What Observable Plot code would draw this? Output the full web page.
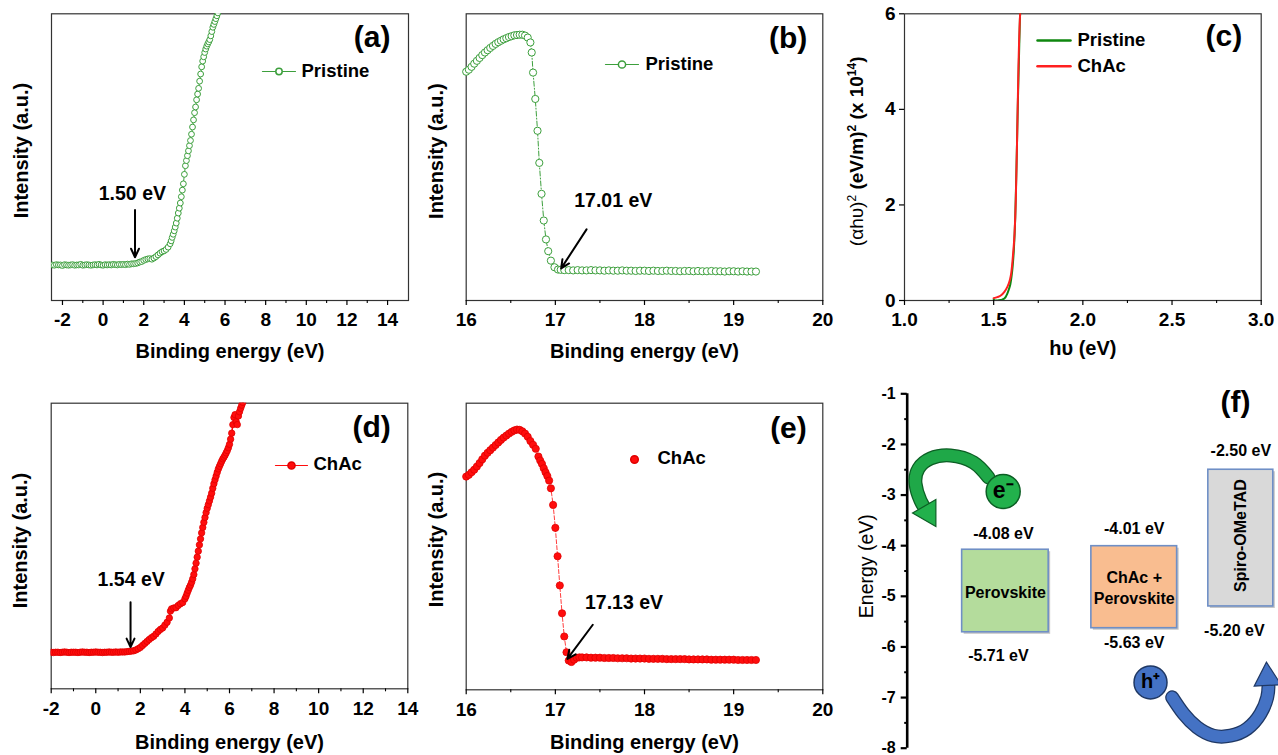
<!DOCTYPE html>
<html><head><meta charset="utf-8">
<script src="https://cdn.jsdelivr.net/npm/d3@7"></script>
<script src="https://cdn.jsdelivr.net/npm/@observablehq/plot@0.6"></script>
<style>
body{margin:0;background:#fff;}
#fig{position:relative;width:1278px;height:755px;overflow:hidden;background:#fff}
.p{position:absolute}
</style></head><body><div id="fig"></div>
<script>
// ---------------- DATA ----------------
// (a) Pristine, valence-band region
const aEnergy = [-2.5,-2.4,-2.3,-2.2,-2.1,-2.0,-1.9,-1.8,-1.7,-1.6,-1.5,-1.4,-1.3,-1.2,-1.1,-1.0,-0.9,-0.8,-0.7,-0.6,-0.5,-0.4,-0.3,-0.2,-0.1,0.0,0.1,0.2,0.3,0.4,0.5,0.6,0.7,0.8,0.9,1.0,1.1,1.2,1.3,1.4,1.5,1.6,
  1.7,1.8,1.9,2.0,2.1,2.2,2.3,2.4,2.5,2.6,2.7,2.8,2.9,3.0,3.1,3.2,3.3,3.35,3.4,3.45,3.5,3.55,3.6,3.65,3.7,3.75,3.8,3.85,3.9,3.95,4.0,
  4.05,4.1,4.15,4.2,4.25,4.3,4.35,4.4,4.45,4.5,4.55,4.6,4.65,4.7,4.75,4.8,4.85,4.9,4.95,5.0,5.05,5.1,5.15,5.2,5.25,5.3,5.35,5.4,5.45,5.5,5.55,5.6,5.65];
const aIntensity = [12.4,12.3,12.5,12.4,12.4,12.2,12.5,12.4,12.3,12.4,12.5,12.3,12.4,12.4,12.6,12.3,12.4,12.5,12.4,12.3,12.4,12.5,12.4,12.6,12.4,12.3,12.5,12.4,12.5,12.4,12.6,12.5,12.4,12.6,12.5,12.6,12.5,12.7,12.6,12.8,12.8,12.9,
  13.1,13.4,13.6,14.0,14.3,14.5,14.6,14.4,14.8,15.3,15.9,16.5,17.0,17.3,17.8,18.6,19.8,20.8,22.0,23.1,24.3,25.6,27.0,28.7,30.5,32.2,34.0,36.2,38.5,40.7,44.0,
  47.0,48.8,50.5,52.2,54.0,55.8,58.0,60.5,63.0,65.5,67.5,70.0,72.0,74.0,76.5,79.0,81.5,83.5,85.0,86.5,87.7,88.7,89.5,90.2,91.0,92.3,93.8,95.3,96.3,97.3,98.3,99.3,100.3];

// (b) Pristine, secondary-electron cutoff
const bEnergy = [16.00,16.03,16.06,16.09,16.12,16.15,16.18,16.21,16.24,16.27,16.30,16.33,16.36,16.39,16.42,16.45,16.48,16.51,16.54,16.57,
  16.60,16.63,16.66,16.69,16.72,16.735,16.75,16.775,16.80,16.82,16.845,16.87,16.895,16.92,16.95,16.99,17.03,17.06,
  17.10,17.15,17.20,17.25,17.30,17.35,17.40,17.45,17.50,17.55,17.60,17.65,17.70,17.75,17.80,17.85,17.90,17.95,18.00,18.05,
  18.10,18.15,18.20,18.25,18.30,18.35,18.40,18.45,18.50,18.55,18.60,18.65,18.70,18.75,18.80,18.85,18.90,18.95,19.00,19.05,19.10,19.15,19.20,19.25];
const bIntensity = [79.8,80.5,81.5,82.6,83.6,84.6,85.6,86.5,87.3,88.1,88.8,89.5,90.1,90.6,91.1,91.5,91.9,92.2,92.5,92.6,
  92.7,92.7,92.4,91.7,90.0,86.5,79.5,70.3,59.2,48.0,37.2,27.9,21.3,17.2,13.9,11.6,10.8,10.7,
  10.6,10.6,10.5,10.6,10.5,10.5,10.6,10.5,10.5,10.4,10.5,10.4,10.4,10.5,10.4,10.4,10.3,10.4,10.4,10.3,
  10.4,10.3,10.3,10.4,10.3,10.3,10.2,10.3,10.3,10.2,10.3,10.2,10.2,10.3,10.2,10.2,10.1,10.2,10.2,10.1,10.2,10.1,10.1,10.1];

// (c) Tauc plot
const cPristineX = [1.500,1.505,1.520,1.540,1.560,1.576,1.585,1.594,1.600,1.606,1.613,1.621,1.628,1.636,1.642,1.647,1.652];
const cPristineY = [0.03,0.0,0.0,0.01,0.04,0.14,0.23,0.35,0.5,0.7,1.05,1.74,2.8,4.2,5.1,5.86,6.2];
const cChAcX = [1.500,1.520,1.538,1.560,1.576,1.590,1.598,1.609,1.617,1.624,1.632,1.639,1.647,1.652];
const cChAcY = [0.05,0.07,0.10,0.18,0.28,0.42,0.56,0.98,1.4,2.1,3.5,4.9,5.9,6.2];

// (d) ChAc, valence-band region
const dEnergy = [-2.0,-1.9,-1.8,-1.7,-1.6,-1.5,-1.4,-1.3,-1.2,-1.1,-1.0,-0.9,-0.8,-0.7,-0.6,-0.5,-0.4,-0.3,-0.2,-0.1,0.0,0.1,0.2,0.3,0.4,0.5,0.6,0.7,0.8,0.9,1.0,1.1,1.2,1.3,
  1.4,1.5,1.6,1.7,1.8,1.9,2.0,2.1,2.2,2.3,2.4,2.5,2.6,2.7,2.8,2.9,3.0,3.1,3.2,3.3,3.35,3.4,3.5,3.6,3.7,3.8,3.9,
  4.0,4.05,4.1,4.15,4.2,4.25,4.3,4.35,4.4,4.45,4.5,4.55,4.6,4.65,4.7,4.75,4.8,4.85,4.9,4.95,5.0,5.05,5.1,5.15,5.2,5.25,5.3,5.35,5.4,5.45,5.5,
  5.55,5.6,5.65,5.7,5.75,5.8,5.85,5.9,5.95,6.0,6.05,6.1,6.15,6.2,6.25,6.3,6.35,6.4,6.45,6.5,6.55,6.6];
const dIntensity = [12.8,12.7,12.8,12.8,12.7,12.8,12.9,12.8,12.7,12.8,12.8,12.8,12.7,12.8,12.9,12.8,12.8,12.7,12.8,12.8,12.9,12.8,12.8,12.7,12.8,12.8,12.9,12.8,12.8,12.9,12.8,12.9,12.9,12.9,
  13.0,13.1,13.2,13.3,13.6,14.0,14.5,15.2,15.9,16.6,17.3,17.9,18.4,19.2,20.1,20.8,21.3,22.3,23.3,24.8,27.2,28.0,28.3,28.4,29.2,29.8,30.2,
  31.5,32.4,33.5,34.5,35.5,36.3,37.3,38.5,40.0,42.0,44.0,46.1,48.2,50.4,52.5,54.6,56.5,58.3,60.0,61.7,63.2,64.5,65.8,67.1,68.5,70.2,71.8,73.2,74.5,75.8,77.0,
  77.9,78.8,79.7,80.5,81.1,81.8,82.6,83.4,84.4,85.6,87.4,89.5,92.5,95.0,96.0,93.5,92.5,95.5,97.0,98.2,99.3,100.3];

// (e) ChAc, secondary-electron cutoff
const eEnergy = [16.00,16.03,16.06,16.09,16.12,16.15,16.18,16.21,16.24,16.27,16.30,16.33,16.36,16.39,16.42,16.45,16.48,16.51,16.54,16.57,
  16.60,16.63,16.66,16.69,16.72,16.75,16.78,16.81,16.83,16.85,16.87,16.89,16.91,16.93,16.95,16.975,17.0,17.025,17.05,17.075,
  17.10,17.125,17.15,17.18,17.21,17.24,17.27,
  17.30,17.35,17.40,17.45,17.50,17.55,17.60,17.65,17.70,17.75,17.80,17.85,17.90,17.95,18.00,18.05,18.10,18.15,18.20,18.25,
  18.30,18.35,18.40,18.45,18.50,18.55,18.60,18.65,18.70,18.75,18.80,18.85,18.90,18.95,19.00,19.05,19.10,19.15,19.20,19.25];
const eIntensity = [74.4,75.0,75.9,76.8,77.9,79.1,80.4,81.7,82.7,83.6,84.5,85.4,86.3,87.2,88.0,88.7,89.4,90.0,90.5,90.8,
  90.7,90.2,89.4,88.3,86.8,85.5,84.1,81.4,80.0,78.8,77.3,75.9,74.6,73.0,70.3,64.5,56.5,46.6,36.4,26.7,
  18.6,13.1,10.2,9.7,10.5,11.2,11.3,
  11.3,11.3,11.2,11.2,11.2,11.1,11.1,11.1,11.0,11.0,11.0,10.9,10.9,10.9,10.9,10.8,10.8,10.8,10.8,10.7,
  10.7,10.7,10.7,10.7,10.6,10.6,10.6,10.6,10.6,10.5,10.5,10.5,10.5,10.5,10.5,10.4,10.4,10.4,10.4,10.4];

// (f) energy-level diagram
const layerNames = ["Perovskite", "ChAc +\nPerovskite", "Spiro-OMeTAD"];
const layerTop = [-4.08, -4.01, -2.50];
const layerBottom = [-5.71, -5.63, -5.20];

// tick labels
const ticksVB = [-2,0,2,4,6,8,10,12,14];
const ticksSECO = [16,17,18,19,20];
const ticksTaucX = [1.0,1.5,2.0,2.5,3.0];
const ticksTaucY = [0,2,4,6];
const ticksEnergy = [-1,-2,-3,-4,-5,-6,-7,-8];

// ---------------- HELPERS ----------------
const FONT = "'Liberation Sans', Arial, Helvetica, sans-serif";
const GREEN = "#3c9f3c", RED = "#ff0d0d", RED_D = "#e00000";
const fig = document.getElementById("fig");
const rows = (X, Y) => X.map((x, i) => ({x, y: Y[i]}));
const hy = d => String(d); // hyphen-minus like the original

function scales(cfg) {
  const sx = d3.scaleLinear(cfg.xDomain, [cfg.frame.l, cfg.frame.r]);
  const sy = d3.scaleLinear(cfg.yDomain, [cfg.frame.b, cfg.frame.t]);
  return {X: p => sx.invert(p), Y: p => sy.invert(p)};
}
function mount(cfg, marks, opts = {}) {
  const {left, top, width, height, frame} = cfg;
  const svg = Plot.plot({
    width, height,
    marginLeft: frame.l - left,
    marginRight: left + width - frame.r,
    marginTop: frame.t - top,
    marginBottom: top + height - frame.b,
    x: {domain: cfg.xDomain, label: null, ...(opts.x || {})},
    y: {domain: cfg.yDomain, label: null, ...(opts.y || {})},
    style: {fontFamily: FONT, fontWeight: "bold", fontSize: "19px", color: "#000", background: "transparent", overflow: "visible"},
    marks
  });
  if (opts.post) opts.post(svg);
  const wrap = document.createElement("div");
  wrap.className = "p";
  wrap.style.left = left + "px";
  wrap.style.top = top + "px";
  wrap.appendChild(svg);
  fig.appendChild(wrap);
}
const xTitle = (t, dy) => Plot.text([t], {frameAnchor: "bottom", dy, textAnchor: "middle", lineAnchor: "middle", fontSize: 20});
const yTitle = (t, dx, dy, fs = 20, fw = "bold") => Plot.text([t], {frameAnchor: "left", dx, dy, rotate: -90, textAnchor: "middle", lineAnchor: "middle", fontSize: fs, fontWeight: fw});
const panelLabel = (t, dx, dy) => Plot.text([t], {frameAnchor: "top-right", dx, dy, textAnchor: "end", lineAnchor: "middle", fontSize: 30});
const majorX = (ticks, pad, fmt = hy) => Plot.axisX(ticks, {tickSize: 5, tickPadding: pad, tickFormat: fmt, fontSize: 19, strokeWidth: 1.2, label: null});
const minorX = (ticks) => Plot.axisX(ticks, {tickSize: 3, tickFormat: () => "", strokeWidth: 1.1, label: null});
const frameMark = () => Plot.frame({stroke: "#333", strokeWidth: 1.2});

// ---------------- (a) ----------------
const A = {left: 0, top: 0, width: 426, height: 378, frame: {l: 51, r: 408, t: 13.3, b: 300}, xDomain: [-2.54, 15.03], yDomain: [0, 100]};
{
  const s = scales(A);
  mount(A, [
    frameMark(),
    Plot.line(rows(aEnergy, aIntensity), {x: "x", y: "y", stroke: GREEN, strokeWidth: 1, clip: true}),
    Plot.dot(rows(aEnergy, aIntensity), {x: "x", y: "y", r: 2.9, stroke: GREEN, fill: "white", strokeWidth: 1, clip: true}),
    majorX(ticksVB, 6.7), minorX([-1,1,3,5,7,9,11,13]),
    Plot.text([{x: 1.44, y: 37.2, t: "1.50 eV"}], {x: "x", y: "y", text: "t", fontSize: 19.5, lineAnchor: "middle"}),
    Plot.arrow([{x1: 1.57, y1: 31.6, x2: 1.57, y2: 15.1}], {x1: "x1", y1: "y1", x2: "x2", y2: "y2", stroke: "black", strokeWidth: 2, headLength: 7, headAngle: 50}),
    Plot.line([{x: s.X(262), y: s.Y(71)}, {x: s.X(295), y: s.Y(71)}], {x: "x", y: "y", stroke: GREEN, strokeWidth: 1.2}),
    Plot.dot([{x: s.X(278.5), y: s.Y(71)}], {x: "x", y: "y", r: 3.2, stroke: GREEN, fill: "white"}),
    Plot.text([{x: s.X(301), y: s.Y(71), t: "Pristine"}], {x: "x", y: "y", text: "t", textAnchor: "start", lineAnchor: "middle", fontSize: 18.5}),
    panelLabel("(a)", -18, 23.4),
    yTitle("Intensity (a.u.)", -30.3, -6.6),
    xTitle("Binding energy (eV)", 51)
  ], {y: {axis: null}});
}

// ---------------- (b) ----------------
const B = {left: 426, top: 0, width: 414, height: 378, frame: {l: 465.7, r: 822.3, t: 13.3, b: 300}, xDomain: [16, 20], yDomain: [0, 100]};
{
  const s = scales(B);
  mount(B, [
    frameMark(),
    Plot.line(rows(bEnergy, bIntensity), {x: "x", y: "y", stroke: GREEN, strokeWidth: 1, strokeDasharray: "5,2,1,2"}),
    Plot.dot(rows(bEnergy, bIntensity), {x: "x", y: "y", r: 3.6, stroke: GREEN, fill: "white", strokeWidth: 1}),
    majorX(ticksSECO, 6.7), minorX([16.5,17.5,18.5,19.5]),
    Plot.text([{x: 17.65, y: 34.9, t: "17.01 eV"}], {x: "x", y: "y", text: "t", fontSize: 19.5, lineAnchor: "middle"}),
    Plot.arrow([{x1: 17.35, y1: 24.8, x2: 17.065, y2: 11.2}], {x1: "x1", y1: "y1", x2: "x2", y2: "y2", stroke: "black", strokeWidth: 2, headLength: 7, headAngle: 50}),
    Plot.line([{x: s.X(605), y: s.Y(64)}, {x: s.X(638), y: s.Y(64)}], {x: "x", y: "y", stroke: GREEN, strokeWidth: 1.2}),
    Plot.dot([{x: s.X(621.5), y: s.Y(64)}], {x: "x", y: "y", r: 3.6, stroke: GREEN, fill: "white"}),
    Plot.text([{x: s.X(645), y: s.Y(64), t: "Pristine"}], {x: "x", y: "y", text: "t", textAnchor: "start", lineAnchor: "middle", fontSize: 18.5}),
    panelLabel("(b)", -15.6, 25),
    yTitle("Intensity (a.u.)", -29.7, -6),
    xTitle("Binding energy (eV)", 51)
  ], {y: {axis: null}});
}

// ---------------- (c) ----------------
const C = {left: 840, top: 0, width: 438, height: 378, frame: {l: 904, r: 1260.7, t: 13.3, b: 300}, xDomain: [1, 3], yDomain: [0, 6]};
{
  const s = scales(C);
  const CG = "#0f870f", CR = "#ff2020";
  const TAUC_LABEL = "(αhυ)2 (eV/m)2 (x 1014)";
  mount(C, [
    frameMark(),
    Plot.line(rows(cPristineX, cPristineY), {x: "x", y: "y", stroke: CG, strokeWidth: 2, curve: "monotone-x", clip: true}),
    Plot.line(rows(cChAcX, cChAcY), {x: "x", y: "y", stroke: CR, strokeWidth: 2, curve: "monotone-x", clip: true}),
    majorX(ticksTaucX, 6.7, d => d.toFixed(1)), minorX([1.25,1.75,2.25,2.75]),
    Plot.axisY(ticksTaucY, {tickSize: 5, tickPadding: 4, tickFormat: hy, fontSize: 19, strokeWidth: 1.2, label: null}),
    Plot.line([{x: s.X(1037), y: s.Y(40)}, {x: s.X(1070), y: s.Y(40)}], {x: "x", y: "y", stroke: CG, strokeWidth: 2.5}),
    Plot.line([{x: s.X(1037), y: s.Y(65.7)}, {x: s.X(1070), y: s.Y(65.7)}], {x: "x", y: "y", stroke: CR, strokeWidth: 2.5}),
    Plot.text([{x: s.X(1077), y: s.Y(40), t: "Pristine"}, {x: s.X(1077), y: s.Y(65.7), t: "ChAc"}], {x: "x", y: "y", text: "t", textAnchor: "start", lineAnchor: "middle", fontSize: 18.5}),
    panelLabel("(c)", -19, 23),
    yTitle(TAUC_LABEL, -47.3, -5.8, 19),
    xTitle("hυ (eV)", 48.5)
  ], {post: svg => {
    // rich text for the Tauc axis title: regular (αhυ), bold units, raised exponents
    for (const t of svg.querySelectorAll("text")) {
      if (t.textContent === TAUC_LABEL) {
        const NS = "http://www.w3.org/2000/svg";
        const parts = [["(αhυ)", "normal", 0, 19], ["2", "normal", -7, 12], [" (eV/m)", "bold", 7, 19], ["2", "bold", -7, 12], [" (x 10", "bold", 7, 19], ["14", "bold", -7, 12], [")", "bold", 7, 19]];
        t.textContent = "";
        for (const [txt, fw, dy, fs] of parts) {
          const sp = document.createElementNS(NS, "tspan");
          sp.textContent = txt; sp.setAttribute("font-weight", fw); sp.setAttribute("font-size", fs);
          if (dy) sp.setAttribute("dy", dy);
          t.appendChild(sp);
        }
      }
    }
  }});
}

// ---------------- (d) ----------------
const D = {left: 0, top: 378, width: 426, height: 377, frame: {l: 50.7, r: 407.3, t: 402.7, b: 688.3}, xDomain: [-2, 14], yDomain: [0, 100]};
{
  const s = scales(D);
  mount(D, [
    frameMark(),
    Plot.line(rows(dEnergy, dIntensity), {x: "x", y: "y", stroke: RED, strokeWidth: 1.5, clip: true}),
    Plot.dot(rows(dEnergy, dIntensity), {x: "x", y: "y", r: 3.2, stroke: RED_D, fill: RED, strokeWidth: 0.8, clip: true}),
    majorX(ticksVB, 8), minorX([-1,1,3,5,7,9,11,13]),
    Plot.text([{x: 1.59, y: 38.3, t: "1.54 eV"}], {x: "x", y: "y", text: "t", fontSize: 19.5, lineAnchor: "middle"}),
    Plot.arrow([{x1: 1.56, y1: 30.3, x2: 1.56, y2: 14.6}], {x1: "x1", y1: "y1", x2: "x2", y2: "y2", stroke: "black", strokeWidth: 2, headLength: 7, headAngle: 50}),
    Plot.line([{x: s.X(275), y: s.Y(465)}, {x: s.X(307), y: s.Y(465)}], {x: "x", y: "y", stroke: RED, strokeWidth: 1.2}),
    Plot.dot([{x: s.X(291), y: s.Y(465)}], {x: "x", y: "y", r: 3.6, stroke: RED_D, fill: RED}),
    Plot.text([{x: s.X(313), y: s.Y(464), t: "ChAc"}], {x: "x", y: "y", text: "t", textAnchor: "start", lineAnchor: "middle", fontSize: 18.5}),
    panelLabel("(d)", -17, 24),
    yTitle("Intensity (a.u.)", -30.7, -5.5),
    xTitle("Binding energy (eV)", 53.5)
  ], {y: {axis: null}});
}

// ---------------- (e) ----------------
const E = {left: 426, top: 378, width: 414, height: 377, frame: {l: 465.7, r: 822.3, t: 402.7, b: 689.3}, xDomain: [16, 20], yDomain: [0, 100]};
{
  const s = scales(E);
  mount(E, [
    frameMark(),
    Plot.line(rows(eEnergy, eIntensity), {x: "x", y: "y", stroke: RED, strokeWidth: 0.8, strokeDasharray: "4,2"}),
    Plot.dot(rows(eEnergy, eIntensity), {x: "x", y: "y", r: 3.6, stroke: RED_D, fill: RED, strokeWidth: 0.8}),
    majorX(ticksSECO, 8), minorX([16.5,17.5,18.5,19.5]),
    Plot.text([{x: 17.77, y: 30.2, t: "17.13 eV"}], {x: "x", y: "y", text: "t", fontSize: 19.5, lineAnchor: "middle"}),
    Plot.arrow([{x1: 17.42, y1: 22.7, x2: 17.135, y2: 10.8}], {x1: "x1", y1: "y1", x2: "x2", y2: "y2", stroke: "black", strokeWidth: 2, headLength: 7, headAngle: 50}),
    Plot.dot([{x: s.X(634), y: s.Y(459)}], {x: "x", y: "y", r: 3.8, stroke: RED_D, fill: RED}),
    Plot.text([{x: s.X(657), y: s.Y(458), t: "ChAc"}], {x: "x", y: "y", text: "t", textAnchor: "start", lineAnchor: "middle", fontSize: 18.5}),
    panelLabel("(e)", -16, 25),
    yTitle("Intensity (a.u.)", -29.9, -7),
    xTitle("Binding energy (eV)", 53)
  ], {y: {axis: null}});
}

// ---------------- (f) ----------------
const F = {left: 840, top: 378, width: 438, height: 377, frame: {l: 906.7, r: 1278, t: 393.3, b: 747.7}, xDomain: [0, 10], yDomain: [-8, -1]};
{
  // layout of the diagram (x extent of each layer box, label nudges)
  const boxX = [[1.48, 3.81], [4.96, 7.27], [8.11, 9.86]];
  const boxFill = ["#b4dc9c", "#f9bd90", "#d9d9d9"];
  const topNudge = [[-2, -16], [0, -17.5], [0, -19]];
  const botNudge = [[-7, 24], [0, 14.5], [-6.5, 24]];
  const boxes = layerNames.map((name, i) => ({name, x1: boxX[i][0], x2: boxX[i][1], top: layerTop[i], bottom: layerBottom[i], fill: boxFill[i]}));
  const greenArrow = [[2.19,-2.654],[1.786,-2.357],[1.166,-2.219],[0.628,-2.278],[0.304,-2.476],[0.224,-2.773],[0.358,-3.109],[0.52,-3.306]];
  const blueArrow = [[7.137,-6.996],[7.441,-7.318],[7.81,-7.589],[8.249,-7.753],[8.707,-7.753],[9.157,-7.615],[9.515,-7.318],[9.696,-6.996],[9.73,-6.785]];
  const energyLabels = boxes.flatMap((b, i) => [
    Plot.text([{x: (b.x1 + b.x2) / 2, y: b.top, t: `${b.top.toFixed(2)} eV`}], {x: "x", y: "y", text: "t", dx: topNudge[i][0], dy: topNudge[i][1], fontSize: 16, lineAnchor: "middle"}),
    Plot.text([{x: (b.x1 + b.x2) / 2, y: b.bottom, t: `${b.bottom.toFixed(2)} eV`}], {x: "x", y: "y", text: "t", dx: botNudge[i][0], dy: botNudge[i][1], fontSize: 16, lineAnchor: "middle"})
  ]);
  mount(F, [
    Plot.ruleX([0], {y1: -8, y2: -1, strokeWidth: 2.6}),
    Plot.axisY(ticksEnergy, {tickSize: 6, tickPadding: 5.5, tickFormat: hy, fontSize: 16, strokeWidth: 2.2, label: null}),
    Plot.axisY([-1.5,-2.5,-3.5,-4.5,-5.5,-6.5,-7.5], {tickSize: 2.5, tickFormat: () => "", strokeWidth: 2, label: null}),
    yTitle("Energy (eV)", -40.7, -4.8, 19.5, "normal"),
    Plot.rect(boxes, {x1: "x1", x2: "x2", y1: "bottom", y2: "top", fill: "#555", fillOpacity: 0.35, dx: 2, dy: 2}),
    Plot.rect(boxes, {x1: "x1", x2: "x2", y1: "bottom", y2: "top", fill: "fill", stroke: "#6f8fc6", strokeWidth: 1.6}),
    Plot.text(boxes.slice(0, 2), {x: d => (d.x1 + d.x2) / 2, y: d => (d.top + d.bottom) / 2, text: "name", fontSize: 16, lineHeight: 1.3, lineAnchor: "middle"}),
    Plot.text(boxes.slice(2), {x: d => (d.x1 + d.x2) / 2, y: d => (d.top + d.bottom) / 2, text: "name", fontSize: 16, rotate: -90, dy: -2.5, lineAnchor: "middle"}),
    ...energyLabels,
    // electron transfer arrow
    Plot.line(greenArrow, {curve: "natural", stroke: "#0c5e24", strokeWidth: 14}),
    Plot.line(greenArrow, {curve: "natural", stroke: "#1fa848", strokeWidth: 11.5}),
    Plot.dot([[0.563, -3.355]], {symbol: "triangle", r: 10, fill: "#22b14c", stroke: "#0c5e24", strokeWidth: 1.2, rotate: 150}),
    Plot.dot([[2.585, -2.931]], {r: 17, fill: "#22b14c", stroke: "#0c5e24", strokeWidth: 1.5}),
    Plot.text([[2.585, -2.931]], {text: () => "e⁻", fontSize: 23, lineAnchor: "middle", dy: -1}),
    // hole transfer arrow
    Plot.line(blueArrow, {curve: "natural", stroke: "#1f3864", strokeWidth: 14}),
    Plot.line(blueArrow, {curve: "natural", stroke: "#4472c4", strokeWidth: 11.5}),
    Plot.dot([[9.696, -6.607]], {symbol: "triangle", r: 10, fill: "#4472c4", stroke: "#1f3864", strokeWidth: 1.2, rotate: -3}),
    Plot.dot([[6.553, -6.7]], {r: 16.5, fill: "#4472c4", stroke: "#1f3864", strokeWidth: 1.5}),
    Plot.text([[6.553, -6.7]], {text: () => "h⁺", fontSize: 20, lineAnchor: "middle", dy: -1}),
    panelLabel("(f)", -28, 8.4)
  ], {x: {axis: null}});
}
</script></body></html>
